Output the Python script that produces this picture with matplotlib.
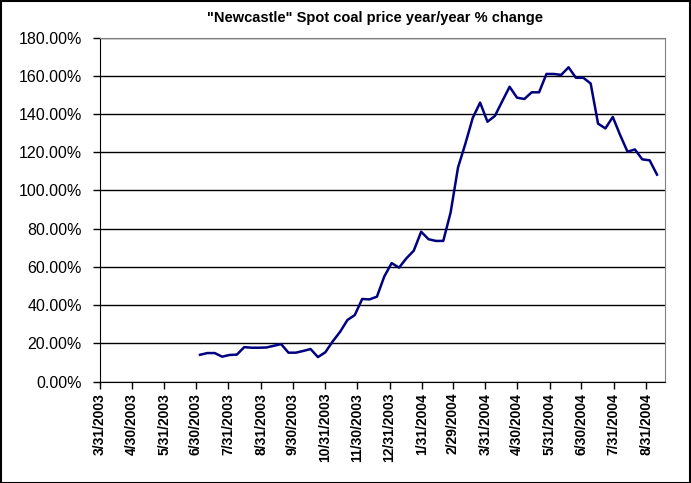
import matplotlib
matplotlib.use('Agg')
import matplotlib.pyplot as plt
import matplotlib.dates as mdates
from matplotlib.patches import Rectangle
from matplotlib.ticker import FuncFormatter, MultipleLocator
import pandas as pd

# weekly (Friday) observations, 4 Jul 2003 .. 10 Sep 2004
dates = pd.date_range('2003-07-04', '2004-09-10', freq='7D')
pct_change = [14.0, 14.9, 14.9, 13.0, 13.9, 14.1, 18.0, 17.7, 17.7, 17.8,
              18.7, 19.6, 15.1, 15.1, 16.0, 17.0, 12.8, 15.3, 21.0, 26.0,
              32.2, 34.8, 43.2, 43.0, 44.4, 55.0, 62.0, 59.6, 64.5, 68.5,
              78.4, 74.5, 73.6, 73.6, 88.5, 112.0, 124.5, 138.0, 146.0, 136.0,
              139.0, 146.7, 154.3, 148.6, 147.9, 151.4, 151.4, 161.0, 161.0, 160.5,
              164.5, 159.0, 159.0, 156.0, 135.0, 132.5, 138.5, 129.0, 120.3, 121.5,
              116.3, 115.8, 108.3]

tick_dates = pd.date_range('2003-03-31', '2004-08-31', freq='ME')
title = '"Newcastle" Spot coal price year/year % change'

plt.rcParams['font.family'] = ['Liberation Sans', 'DejaVu Sans']

fig = plt.figure(figsize=(6.91, 4.83), dpi=100)
ax = fig.add_axes([0.1447, 0.2101, 0.8183, 0.7119])

ax.plot(dates, pct_change, color='#000080', lw=1.8)

ax.set_xlim(pd.Timestamp('2003-03-31'), pd.Timestamp('2004-09-18'))
ax.set_ylim(0, 180)
ax.yaxis.set_major_locator(MultipleLocator(20))
ax.yaxis.set_major_formatter(FuncFormatter(lambda v, p: '%.2f%%' % v))
ax.set_xticks(tick_dates)
ax.xaxis.set_major_formatter(FuncFormatter(
    lambda v, p: '%d/%d/%d' % (mdates.num2date(v).month, mdates.num2date(v).day,
                               mdates.num2date(v).year)))
plt.setp(ax.get_xticklabels(), rotation=90, fontsize=10, fontweight='bold')
plt.setp(ax.get_yticklabels(), fontsize=11.5)
ax.tick_params(axis='x', direction='out', length=5, width=1, color='black', pad=3)
ax.tick_params(axis='y', direction='out', length=5, width=1, color='black', pad=8)

ax.grid(axis='y', color='black', lw=1)
ax.set_axisbelow(True)
for s in ['top', 'right']:
    ax.spines[s].set_color('#808080')
for s in ['left', 'bottom']:
    ax.spines[s].set_color('black')

fig.text(0.543, 0.963, title, ha='center', va='center', fontsize=10.5, fontweight='bold')
fig.patches.append(Rectangle((0.001, 0.001), 0.997, 0.997, transform=fig.transFigure,
                             fill=False, edgecolor='black', lw=1.5))

fig.savefig('out.png', dpi=100)
